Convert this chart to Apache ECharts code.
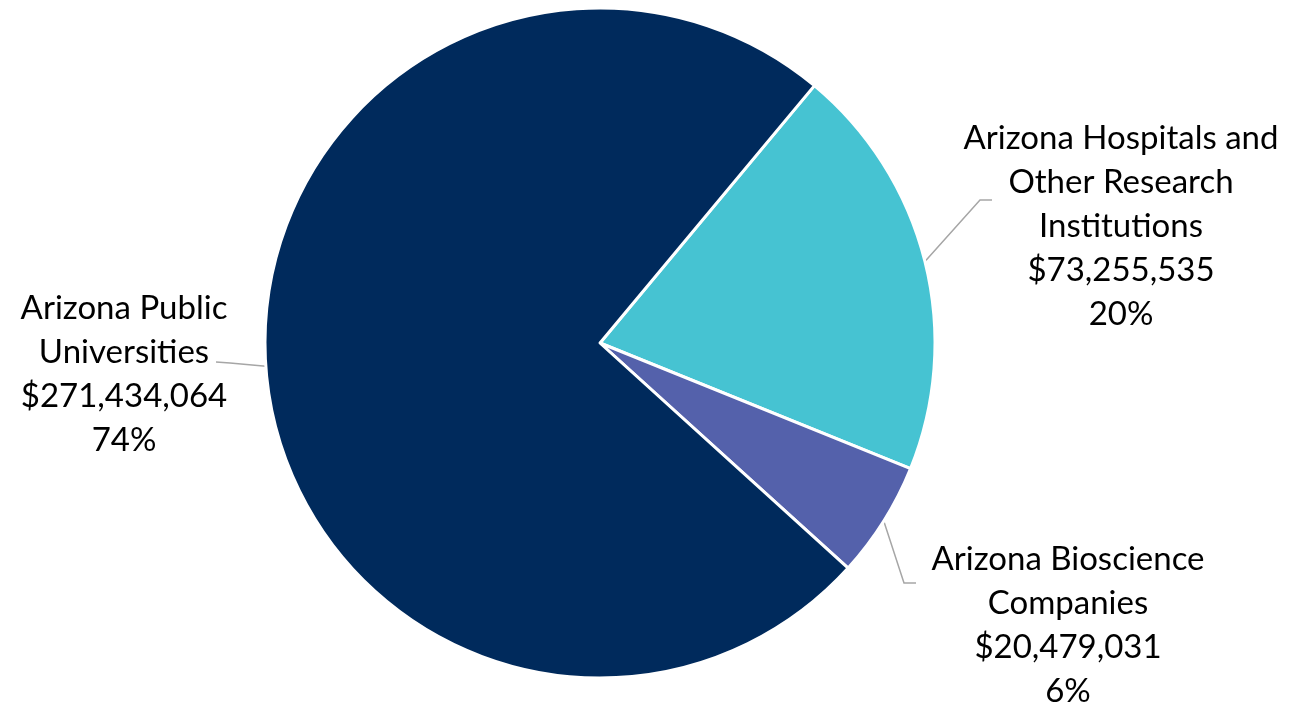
<!DOCTYPE html>
<html>
<head>
<meta charset="utf-8">
<script src="https://cdn.jsdelivr.net/npm/echarts@6/dist/echarts.min.js"></script>
<style>
  html, body { margin: 0; padding: 0; background: #fff; }
  #chart { width: 1291px; height: 709px; }
</style>
</head>
<body>
<div id="chart"></div>
<script>
document.addEventListener("DOMContentLoaded", () => {
    // dane z wykresu
    const names = [
        'Arizona Hospitals and\nOther Research\nInstitutions',
        'Arizona Bioscience\nCompanies',
        'Arizona Public\nUniversities'
    ];
    const amounts = [73255535, 20479031, 271434064];
    const colors = ['#46C3D2', '#5461AB', '#002A5C'];

    // gdzie stoja etykiety (srodek bloku tekstu)
    const labelSpots = [
        { x: 1121, y: 226 },
        { x: 1068, y: 625 },
        { x: 124, y: 374 }
    ];
    // kolanko i koniec linii odniesienia
    const leaderEnds = [
        [[980, 200], [992, 200]],
        [[904, 583], [916, 583]],
        [[230, 363], [216, 362]]
    ];

    const fmt = v => '$' + v.toLocaleString('en-US');

    let chartData = amounts.map((v, i) => ({
        value: v,
        name: names[i],
        itemStyle: { color: colors[i] }
    }));

    const chart = echarts.init(document.querySelector("#chart"));
    chart.setOption({
        animation: false,
        series: [{
            type: 'pie',
            center: [600, 343],
            radius: 335,
            startAngle: 50.2,
            clockwise: true,
            itemStyle: {
                borderColor: '#ffffff',
                borderWidth: 3
            },
            label: {
                show: true,
                position: 'outside',
                formatter: p => p.name + '\n' + fmt(p.value) + '\n' + Math.round(p.percent) + '%',
                fontFamily: 'Lato',
                fontSize: 33,
                lineHeight: 44,
                color: '#000',
                align: 'center'
            },
            labelLine: {
                show: true,
                length: 20,
                length2: 12,
                lineStyle: { color: '#A6A6A6', width: 1.5 }
            },
            labelLayout: function (params) {
                const s = labelSpots[params.dataIndex];
                const start = params.labelLinePoints ? params.labelLinePoints[0] : null;
                const out = {
                    x: s.x,
                    y: s.y,
                    align: 'center',
                    verticalAlign: 'middle'
                };
                if (start) {
                    out.labelLinePoints = [start].concat(leaderEnds[params.dataIndex]);
                }
                return out;
            },
            data: chartData
        }]
    });
});
</script>
</body>
</html>
